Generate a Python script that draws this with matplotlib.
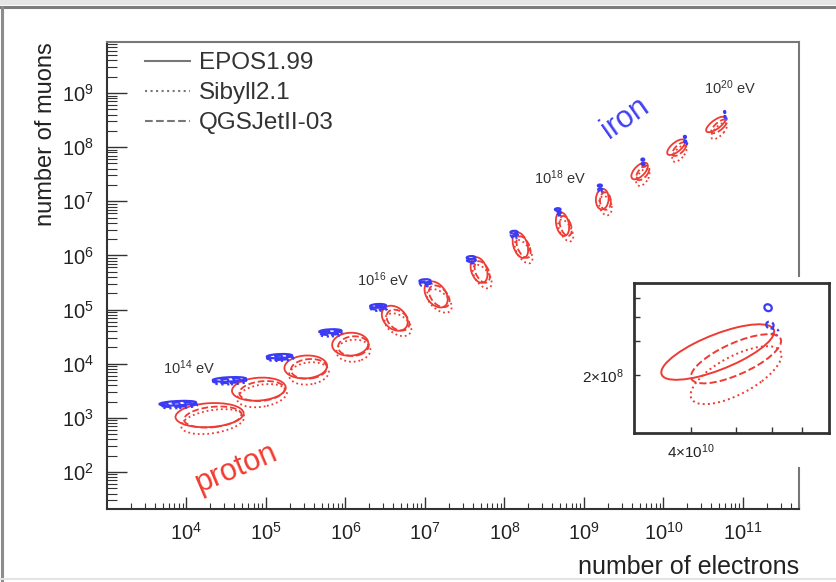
import matplotlib.pyplot as plt
from matplotlib.patches import Ellipse, Rectangle
from matplotlib.lines import Line2D
from matplotlib.ticker import FixedLocator, LogLocator, NullFormatter, NullLocator

plt.rcParams['font.family'] = ['Liberation Sans', 'DejaVu Sans']
plt.rcParams['mathtext.fontset'] = 'custom'
plt.rcParams['mathtext.rm'] = 'Liberation Sans'
plt.rcParams['mathtext.it'] = 'Liberation Sans:italic'
plt.rcParams['mathtext.bf'] = 'Liberation Sans:bold'

# shower energies, log10(E/eV)
energies = [14.0, 14.5, 15.0, 15.5, 16.0, 16.5, 17.0, 17.5, 18.0, 18.5, 19.0, 19.5, 20.0]

# proton contours (EPOS1.99), log10 units: centre, extent (decades), tilt (deg)
p_ne = [4.29, 4.91, 5.50, 6.06, 6.62, 7.14, 7.68, 8.20, 8.73, 9.23, 9.70, 10.16, 10.66]
p_nmu = [3.05, 3.53, 3.94, 4.36, 4.84, 5.28, 5.73, 6.19, 6.58, 7.04, 7.56, 8.00, 8.42]
p_w = [0.86, 0.68, 0.54, 0.46, 0.48, 0.50, 0.48, 0.48, 0.44, 0.38, 0.34, 0.34, 0.354]
p_h = [0.44, 0.42, 0.42, 0.42, 0.30, 0.26, 0.20, 0.18, 0.16, 0.16, 0.15, 0.14, 0.136]
p_ang = [6, 8, 10, 20, 110, 108, 100, 100, 97, 88, 62, 55, 51]

# iron contours (EPOS1.99)
fe_ne = [3.89, 4.54, 5.17, 5.81, 6.41, 7.00, 7.58, 8.12, 8.67, 9.20, 9.74, 10.27, 10.77]
fe_nmu = [3.27, 3.71, 4.14, 4.60, 5.07, 5.53, 5.96, 6.43, 6.85, 7.29, 7.77, 8.19, 8.65]
fe_w = [0.46, 0.42, 0.32, 0.28, 0.20, 0.14, 0.11, 0.09, 0.07, 0.05, 0.035, 0.025, 0.016]
fe_h = [0.08, 0.08, 0.075, 0.07, 0.065, 0.06, 0.055, 0.05, 0.045, 0.04, 0.04, 0.038, 0.036]
# iron shift of Sibyll / QGSJet relative to EPOS (decades in N_mu)
fe_dy_sib = [-0.05, -0.05, -0.05, -0.06, -0.06, -0.07, -0.08, -0.08, -0.09, -0.10, -0.11, -0.12, -0.125]
fe_dy_qgs = [-0.025, -0.025, -0.03, -0.03, -0.035, -0.04, -0.05, -0.05, -0.06, -0.07, -0.08, -0.085, -0.09]

# hadronic models and their shift relative to EPOS (decades)
models = ['EPOS1.99', 'Sibyll2.1', 'QGSJetII-03']
styles = ['-', ':', '--']
p_dx = [0.0, 0.04, 0.04]
p_dy = [0.0, -0.12, -0.035]
p_scale = [1.0, 0.95, 0.85]
p_dang = [0, 10, 4]
fe_dx = [0.0, 0.015, 0.004]

red = '#ee3b33'
blue = '#3b3bf5'


def draw_contours(ax, which, lw_p, lw_fe):
    # ellipses live in log10 space -> use the axes' scaled-coordinate transform
    trans = ax.transLimits + ax.transAxes
    fe_dy = [[0.0] * len(energies), fe_dy_sib, fe_dy_qgs]
    for m in range(len(models)):
        for i in which:
            ax.add_patch(Ellipse((p_ne[i] + p_dx[m], p_nmu[i] + p_dy[m]),
                                 p_w[i] * p_scale[m], p_h[i] * p_scale[m],
                                 angle=p_ang[i] + p_dang[m], transform=trans,
                                 fill=False, ec=red, ls=styles[m], lw=lw_p))
            ax.add_patch(Ellipse((fe_ne[i] + fe_dx[m], fe_nmu[i] + fe_dy[m][i]),
                                 fe_w[i], fe_h[i], angle=4, transform=trans,
                                 fill=False, ec=blue, ls=styles[m], lw=lw_fe))


fig = plt.figure(figsize=(8.36, 5.82), dpi=100)

# frame around the picture
fig.add_artist(Rectangle((0, 1 - 5 / 582), 1, 5 / 582, transform=fig.transFigure,
                         fc='#e6e6e6', ec='none'))
fig.add_artist(Line2D([0, 1], [1 - 6.5 / 582] * 2, transform=fig.transFigure,
                      color='#7d7d7d', lw=2.2))
fig.add_artist(Line2D([1.5 / 836] * 2, [0, 1 - 6.5 / 582], transform=fig.transFigure,
                      color='#8c8c8c', lw=2.2))
fig.add_artist(Line2D([0, 1], [3 / 582] * 2, transform=fig.transFigure,
                      color='#e4e4e4', lw=1.5))

ax = fig.add_axes([107 / 836, 1 - 509 / 582, 692 / 836, 467 / 582])
ax.set_xscale('log')
ax.set_yscale('log')
ax.set_xlim(1e3, 10 ** 11.705)
ax.set_ylim(10 ** 1.316, 10 ** 9.943)
ax.set_autoscale_on(False)

xt = [10.0 ** k for k in range(4, 12)]
yt = [10.0 ** k for k in range(2, 10)]
ax.xaxis.set_major_locator(FixedLocator(xt))
ax.set_xticklabels(['$10^{%d}$' % k for k in range(4, 12)])
ax.yaxis.set_major_locator(FixedLocator(yt))
ax.set_yticklabels(['$10^{%d}$' % k for k in range(2, 10)])
for a in (ax.xaxis, ax.yaxis):
    a.set_minor_locator(LogLocator(base=10, subs=range(2, 10), numticks=30))
    a.set_minor_formatter(NullFormatter())
ax.tick_params(axis='both', which='both', direction='in', labelsize=14.5,
               color='#333333', labelcolor='#222222', top=False, right=False)
ax.tick_params(axis='x', which='major', length=8.6, width=1, pad=9)
ax.tick_params(axis='x', which='minor', length=4.3, width=0.8)
ax.tick_params(axis='y', which='major', length=14.4, width=1, pad=9.5)
ax.tick_params(axis='y', which='minor', length=7, width=0.8)
for s in ('left', 'bottom'):
    ax.spines[s].set_color('#333333')
    ax.spines[s].set_linewidth(1.5)
for s in ('top', 'right'):
    ax.spines[s].set_color('#777777')
    ax.spines[s].set_linewidth(1.5)

ax.set_xlabel('number of electrons', fontsize=18, loc='right', color='#222222')
ax.xaxis.set_label_coords(1.0, -0.098)
ax.set_ylabel('number of muons', fontsize=17, loc='top', color='#222222')
ax.yaxis.set_label_coords(-0.072, 1.0)

draw_contours(ax, range(len(energies)), 1.3, 1.6)

# energy labels
for e, lx, ly in [(14, 4.03, 3.92), (16, 6.47, 5.55), (18, 8.70, 7.43), (20, 10.84, 9.10)]:
    ax.text(10 ** lx, 10 ** ly, '$10^{%d}$ eV' % e, fontsize=10.5, color='#333333',
            ha='center', va='center')
ax.text(10 ** 9.52, 10 ** 8.54, 'iron', fontsize=22, color='#4040f0', rotation=35,
        ha='center', va='center')
ax.text(10 ** 4.62, 10 ** 2.06, 'proton', fontsize=22, color='#f03c30', rotation=23,
        ha='center', va='center')

handles = [Line2D([], [], color='#777777', ls=st, lw=1.5) for st in styles]
leg = ax.legend(handles, models, loc='upper left', bbox_to_anchor=(0.055, 0.978),
                frameon=False, fontsize=17.5, handlelength=1.85, handletextpad=0.35,
                labelspacing=0.33, borderaxespad=0, borderpad=0)
for t in leg.get_texts():
    t.set_color('#333333')

# white pad behind the inset
fig.add_artist(Rectangle((575 / 836, 1 - 467 / 582), 261 / 836, 190 / 582,
                         transform=fig.transFigure, fc='white', ec='none', zorder=1))

ins = fig.add_axes([634 / 836, 1 - 433 / 582, 195 / 836, 150 / 582], zorder=2)
ins.set_xscale('log')
ins.set_yscale('log')
ins.set_xlim(3e10, 8e10)
ins.set_ylim(1e8, 6e8)
ins.set_autoscale_on(False)
ins.xaxis.set_major_locator(FixedLocator([4e10, 5e10, 6e10, 7e10]))
ins.set_xticklabels([r'4$\times$10$^{10}$', '', '', ''])
ins.yaxis.set_major_locator(FixedLocator([2e8, 3e8, 4e8, 5e8]))
ins.set_yticklabels([r'2$\times$10$^{8}$', '', '', ''])
ins.xaxis.set_minor_locator(NullLocator())
ins.yaxis.set_minor_locator(NullLocator())
ins.tick_params(axis='both', direction='in', length=4, width=1, labelsize=11,
                color='#333333', labelcolor='#222222', pad=7)
for s in ins.spines.values():
    s.set_color('#333333')
    s.set_linewidth(2)

draw_contours(ins, [len(energies) - 1], 1.4, 1.6)

fig.savefig('out.png', dpi=100)
